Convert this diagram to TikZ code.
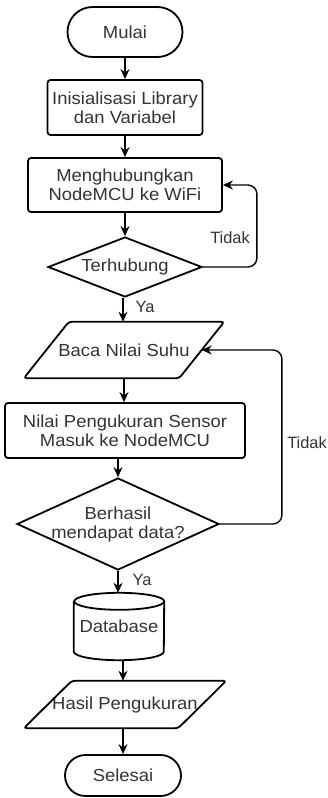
\documentclass[tikz,border=0pt]{standalone}
\usepackage{fontspec}
\setmainfont[FakeStretch=1.06]{Liberation Sans}
\newfontfamily\lblfont{Liberation Sans}
\usetikzlibrary{shapes.geometric,arrows.meta,calc}
\begin{document}
\begin{tikzpicture}[x=1pt,y=-1pt,
  shapeline/.style={draw=black,line width=1.8pt},
  txt/.style={font=\fontsize{17.4pt}{19pt}\selectfont,text=black!80,align=center},
  procbox/.style={shapeline,rectangle,rounded corners=3pt,txt,inner sep=0pt},
  terminal/.style={shapeline,rectangle,txt,inner sep=0pt},
  decision/.style={shapeline,diamond,inner sep=0pt,shape aspect=2.5},
  plain/.style={txt,inner sep=0pt},
  lbl/.style={font=\lblfont\fontsize{16.4pt}{18pt}\selectfont,text=black!80,inner sep=0pt},
  conn/.style={line width=1.4pt,-{Stealth[length=10pt,width=9pt]}}
]
\useasboundingbox (0,0) rectangle (328,798);

\node[terminal,minimum width=115pt,minimum height=50pt,rounded corners=25pt] (mulai) at (125,32) {Mulai};
\node[procbox,minimum width=155pt,minimum height=55pt] (init) at (125,107.5) {Inisialisasi Library\\dan Variabel};
\node[procbox,minimum width=194pt,minimum height=54pt] (connect) at (125,185) {Menghubungkan\\NodeMCU ke WiFi};
\node[decision,minimum width=154pt,minimum height=60pt,label={[txt]center:Terhubung}] (terhubung) at (125,267) {};
\node[plain,minimum width=155pt,minimum height=56pt] (baca) at (124,350) {Baca Nilai Suhu};
\node[procbox,minimum width=240pt,minimum height=55pt] (nilai) at (125,430.5) {Nilai Pengukuran Sensor\\Masuk ke NodeMCU};
\node[decision,minimum width=202pt,minimum height=92pt,label={[txt]center:Berhasil\\mendapat data?}] (berhasil) at (118,524) {};
\node[plain,minimum width=90pt,minimum height=67pt] (db) at (119,626.5) {Database};
\node[plain,minimum width=154pt,minimum height=47pt] (hasil) at (125,704.5) {Hasil Pengukuran};
\node[terminal,minimum width=116pt,minimum height=41pt,rounded corners=20.5pt] (selesai) at (123,775.5) {Selesai};

% parallelograms
\draw[shapeline,rounded corners=3pt] ([xshift=22.5pt]baca.north west) -- ([xshift=22.5pt]baca.north east) -- ([xshift=-22.5pt]baca.south east) -- ([xshift=-22.5pt]baca.south west) -- cycle;
\draw[shapeline,rounded corners=3pt] ([xshift=24pt]hasil.north west) -- ([xshift=24pt]hasil.north east) -- ([xshift=-24pt]hasil.south east) -- ([xshift=-24pt]hasil.south west) -- cycle;
% cylinder
\draw[shapeline] ([yshift=-8.5pt]db.north west) -- ([yshift=8.5pt]db.south west)
  arc[start angle=180,end angle=360,x radius=45pt,y radius=8.5pt]
  -- ([yshift=-8.5pt]db.north east)
  arc[start angle=0,end angle=360,x radius=45pt,y radius=8.5pt];

% connectors
\draw[conn] (mulai) -- (init);
\draw[conn] (init) -- (connect);
\draw[conn] (connect) -- (terhubung);
\draw[conn] ([xshift=-2pt]terhubung.south) -- ([xshift=-2pt]terhubung.south |- baca.north);
\draw[conn] (baca.south) -- (baca.south |- nilai.north);
\draw[conn] (berhasil.north |- nilai.south) -- (berhasil.north);
\draw[conn] (berhasil.south) -- (berhasil.south |- db.north);
\draw[conn] ([xshift=4pt]db.south) -- ([xshift=4pt]db.south |- hasil.north);
\draw[conn] (selesai.north |- hasil.south) -- (selesai.north);

\draw[conn,rounded corners=9pt] (terhubung.east) -- ++(54,0) |- (connect.east);
\draw[conn,rounded corners=9pt] (berhasil.east) -- ++(62,0) |- (baca.east);

% labels
\node[lbl] (t1) at (230,238) {Tidak};
\node[lbl] (y1) at (145,307) {Ya};
\node[lbl] (t2) at (307,443) {Tidak};
\node[lbl] (y2) at (142,580) {Ya};
\end{tikzpicture}
\end{document}
